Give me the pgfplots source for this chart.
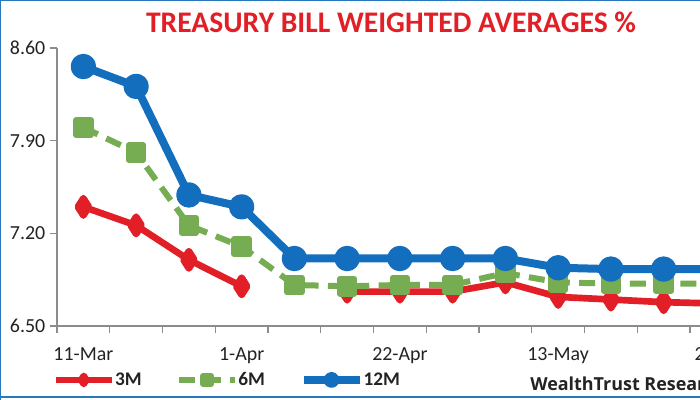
\documentclass[border=0pt]{standalone}
\usepackage{pgfplots}
\pgfplotsset{compat=1.18}
\usepackage{fontspec}
\setmainfont{Carlito}
\newfontfamily\notefont{Open Sans}
\definecolor{tbred}{RGB}{226,30,38}
\definecolor{tbgreen}{RGB}{118,172,82}
\definecolor{tbblue}{RGB}{20,110,190}
\definecolor{frameblue}{RGB}{40,120,190}
\definecolor{axisgray}{RGB}{140,140,140}
\definecolor{tickgray}{RGB}{35,35,35}

\begin{document}
\begin{tikzpicture}[x=0.75bp,y=-0.75bp]
\useasboundingbox (0,0) rectangle (700,400);
\clip (0,0) rectangle (700,400);
\fill[white] (0,0) rectangle (700,400);
\begin{axis}[
  at={(42.75bp,-244.5bp)}, anchor=south west,
  scale only axis,
  width=553.9bp, height=208.5bp,
  xmin=-0.5, xmax=13.5, ymin=6.5, ymax=8.6,
  axis lines*=left,
  axis line style={axisgray, line width=1.1bp},
  tick style={axisgray, line width=0.9bp},
  tick align=outside,
  major tick length=5.25bp, minor tick length=5.25bp,
  ytick={6.5,7.2,7.9,8.6},
  yticklabel style={/pgf/number format/.cd, fixed, fixed zerofill, precision=2},
  /pgf/number format/assume math mode=true,
  xtick={0,3,6,9,12},
  xticklabels={11-Mar,1-Apr,22-Apr,13-May,2-Jun},
  major x tick style={draw=none},
  minor xtick={-0.5,0.5,...,13.5},
  ticklabel style={font=\fontsize{15}{15}\selectfont, text=tickgray},
  xticklabel style={yshift=-7.5bp},
  unbounded coords=jump,
  legend columns=3,
  legend style={at={(-0.012,-0.194)}, anchor=west, draw=none, fill=none,
    font=\bfseries\fontsize{14.5}{14.5}\selectfont, text=tickgray,
    /tikz/every even column/.append style={column sep=24bp},
    /tikz/every odd column/.append style={column sep=-2bp}},
  legend image code/.code={\draw[mark repeat=2,mark phase=2,#1,mark size=3bp]
    plot coordinates {(0bp,0bp)(21bp,0bp)(42bp,0bp)};},
]
\addplot[tbred, line width=5bp, line join=round, mark=diamond*, mark size=6.5bp,
  mark options={solid, xscale=0.85}]
  coordinates {(0,7.40) (1,7.26) (2,7.00) (3,6.80) (4,nan) (5,6.76) (6,6.76)
    (7,6.76) (8,6.83) (9,6.72) (10,6.70) (11,6.68) (12,6.67)};
\addplot[tbgreen, line width=4.5bp, line join=round, dash pattern=on 12bp off 7bp,
  mark=square*, mark size=5.5bp, mark options={solid}]
  coordinates {(0,8.00) (1,7.81) (2,7.26) (3,7.10) (4,6.81) (5,6.80) (6,6.81)
    (7,6.81) (8,6.90) (9,6.83) (10,6.82) (11,6.82) (12,6.82)};
\addplot[tbblue, line width=6bp, line join=round, mark=*, mark size=6.5bp,
  mark options={solid}]
  coordinates {(0,8.46) (1,8.31) (2,7.49) (3,7.40) (4,7.01) (5,7.01) (6,7.01)
    (7,7.01) (8,7.01) (9,6.94) (10,6.93) (11,6.93) (12,6.93)};
\legend{3M,6M,12M}
\end{axis}
\node[text=tbred, font=\bfseries\fontsize{22.5}{22.5}\selectfont, xscale=0.99]
  at (391,22) {TREASURY BILL WEIGHTED AVERAGES \%};
\node[anchor=west, text=tickgray, font=\notefont\bfseries\fontsize{13.5}{13.5}\selectfont,
  inner sep=0pt] at (530,384) {WealthTrust Research};
\draw[frameblue, line width=2.2bp] (0,0) -- (0,400);
\draw[frameblue, line width=1.5bp] (0,0) -- (700,0);
\draw[frameblue, line width=2.2bp] (0,397) -- (700,397);
\end{tikzpicture}
\end{document}
